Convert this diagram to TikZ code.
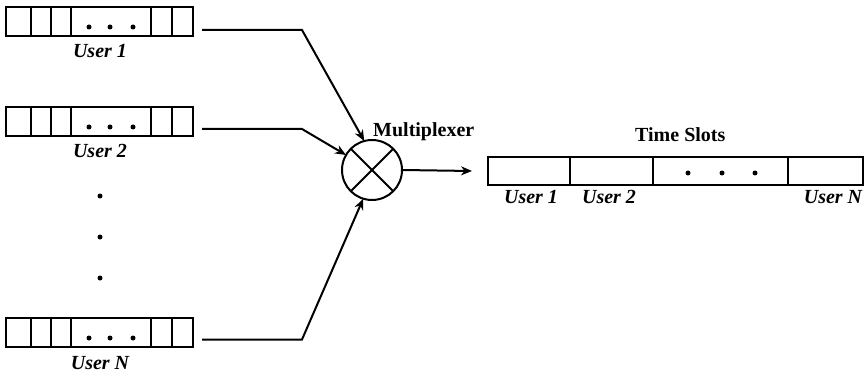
\documentclass[tikz,border=0pt]{standalone}
\usepackage{fontspec}
\setmainfont{Liberation Serif}
\usetikzlibrary{arrows.meta}
\begin{document}
\begin{tikzpicture}[x=1pt,y=-1pt,
  queue/.style={draw, line width=2pt, minimum width=187pt, minimum height=29pt,
    inner sep=0pt, outer sep=0pt, anchor=north west},
  slotbox/.style={draw, line width=2pt, minimum width=375pt, minimum height=28pt,
    inner sep=0pt, outer sep=0pt, anchor=north west},
  divider/.style={line width=1.6pt},
  ulabel/.style={font=\fontsize{20}{24}\selectfont\bfseries\itshape, anchor=base, inner sep=0pt},
  heading/.style={font=\fontsize{20}{24}\selectfont\bfseries, anchor=base west, inner sep=0pt},
  link/.style={line width=2pt, -{Stealth[length=11pt,width=9pt]}},
  smalldot/.style={circle, fill, inner sep=0pt, minimum size=5pt}
]
\useasboundingbox (0,0) rectangle (865,377);

% user queues with their cells
\foreach \n/\y/\t in {1/7/User 1, 2/107/User 2, N/318/User N} {
  \node[queue] (q\n) at (6,\y) {};
  \foreach \d in {25,45,65,145,166}
    \draw[divider] ([xshift=\d pt]q\n.north west) -- ([xshift=\d pt]q\n.south west);
  \foreach \d in {83,104,127}
    \node[smalldot] at ([xshift=\d pt, yshift=-20pt]q\n.north west) {};
  \node[ulabel] (l\n) at (100,\y+51) {\t};
}

% vertical ellipsis between the queues
\node[smalldot] (vd1) at (100,196) {};
\node[smalldot] (vd2) at (100,237) {};
\node[smalldot] (vd3) at (100,278) {};

% multiplexer
\node[draw, circle, line width=2pt, minimum size=60pt, inner sep=0pt, outer sep=0pt] (mux) at (372,170) {};
\draw[line width=2pt] (mux.north west) -- (mux.south east)
                      (mux.north east) -- (mux.south west);
\node[heading] (muxlabel) at (373,137) {Multiplexer};

% inputs to the multiplexer
\draw[link] ([xshift=9pt,yshift=-8.5pt]q1.east) -- ++(100,0) -- (mux.105);
\draw[link] ([xshift=9pt,yshift=-7.5pt]q2.east) -- ++(100,0) -- (mux.150);
\draw[link] ([xshift=9pt,yshift=-7pt]qN.east) -- ++(100,0) -- (mux.253);

% time slots frame
\node[slotbox] (slots) at (488,157) {};
\foreach \d in {82,165,300}
  \draw[divider] ([xshift=\d pt]slots.north west) -- ([xshift=\d pt]slots.south west);
\foreach \d in {200,234,267}
  \node[smalldot] at ([xshift=\d pt, yshift=-16pt]slots.north west) {};
\node[heading] (slotlabel) at (635,142) {Time Slots};

\draw[link] (mux.east) -- ([xshift=-16pt]slots.west);

\node[ulabel] (s1) at (531,204) {User 1};
\node[ulabel] (s2) at (609,204) {User 2};
\node[ulabel] (sN) at (833,204) {User N};
\end{tikzpicture}
\end{document}
